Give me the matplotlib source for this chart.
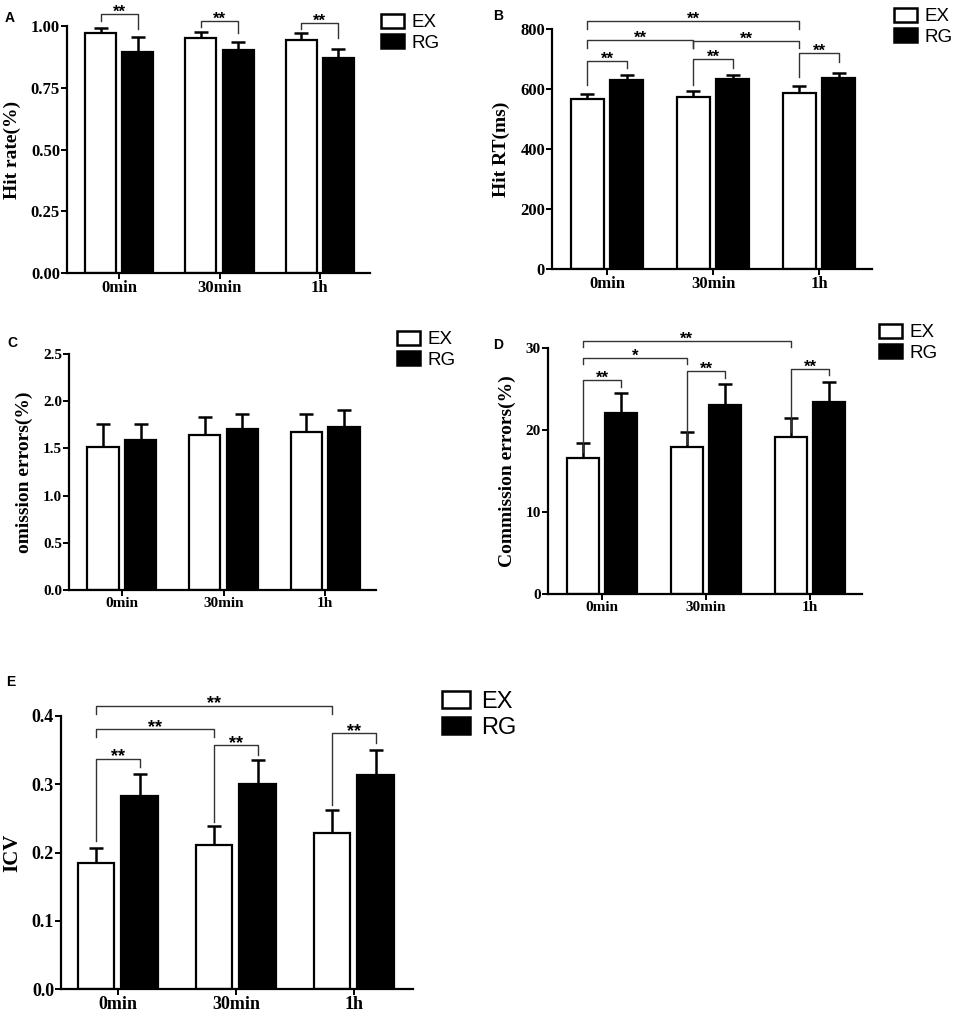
import matplotlib
matplotlib.use("Agg")
import matplotlib.pyplot as plt
from matplotlib.patches import Patch

W, H = 957, 1023

# categories / series
groups = ['0min', '30min', '1h']
series = ['EX', 'RG']

# A - hit rate
hit_rate_ex = [0.970, 0.950, 0.943]
hit_rate_ex_err = [0.023, 0.027, 0.027]
hit_rate_rg = [0.896, 0.903, 0.872]
hit_rate_rg_err = [0.059, 0.031, 0.036]

# B - hit RT
hit_rt_ex = [567, 575, 587]
hit_rt_ex_err = [17, 18, 22]
hit_rt_rg = [630, 632, 638]
hit_rt_rg_err = [18, 16, 15]

# C - omission errors
omission_ex = [1.52, 1.64, 1.67]
omission_ex_err = [0.24, 0.19, 0.19]
omission_rg = [1.59, 1.71, 1.73]
omission_rg_err = [0.17, 0.15, 0.18]

# D - commission errors
commission_ex = [16.6, 17.9, 19.1]
commission_ex_err = [1.8, 1.9, 2.4]
commission_rg = [22.1, 23.1, 23.4]
commission_rg_err = [2.4, 2.5, 2.4]

# E - ICV
icv_ex = [0.184, 0.211, 0.229]
icv_ex_err = [0.023, 0.028, 0.034]
icv_rg = [0.283, 0.301, 0.3135]
icv_rg_err = [0.032, 0.034, 0.037]

# significance brackets: (group1, series1, group2, series2, y, y_left_end, y_right_end, label)
brackets_a = [(0, 0, 0, 1, 1.049, 1.022, 0.988, '**'),
              (1, 0, 1, 1, 1.022, 0.995, 0.970, '**'),
              (2, 0, 2, 1, 1.014, 0.986, 0.950, '**')]
brackets_b = [(0, 0, 2, 0, 826, 801, 801, '**'),
              (0, 0, 1, 0, 762, 737, 737, '**'),
              (1, 0, 2, 0, 759, 737, 737, '**'),
              (0, 0, 0, 1, 694, 614, 670, '**'),
              (1, 0, 1, 1, 701, 614, 670, '**'),
              (2, 0, 2, 1, 720, 640, 690, '**')]
brackets_d = [(0, 0, 2, 0, 30.8, 30.1, 30.1, '**'),
              (0, 0, 1, 0, 28.8, 28.1, 28.1, '*'),
              (0, 0, 0, 1, 26.05, 17.3, 25.3, '**'),
              (1, 0, 1, 1, 27.15, 18.3, 26.4, '**'),
              (2, 0, 2, 1, 27.5, 19.7, 26.7, '**')]
brackets_e = [(0, 0, 2, 0, 0.415, 0.403, 0.403, '**'),
              (0, 0, 1, 0, 0.381, 0.369, 0.369, '**'),
              (0, 0, 0, 1, 0.3375, 0.217, 0.325, '**'),
              (1, 0, 1, 1, 0.357, 0.245, 0.343, '**'),
              (2, 0, 2, 1, 0.3746, 0.270, 0.360, '**')]

SERIF = 'Liberation Serif'
SANS = 'Liberation Sans'
OFF = [-0.185, 0.185]
BW = 0.31

fig = plt.figure(figsize=(W / 100, H / 100), dpi=100)


def px_axes(l, r, t, b):
    return fig.add_axes([l / W, 1 - b / H, (r - l) / W, (b - t) / H])


def panel(ax, ex, ex_err, rg, rg_err, ylim, yticks, fmt, ylabel, brackets,
          tick_fs=12, lab_fs=14, star_fs=12, leg_pos=(0, 0), leg_fs=13.5, letter='',
          letter_pos=(0, 0), xlim=(-0.52, 2.5)):
    x = range(len(groups))
    xe = [i + OFF[0] for i in x]
    xr = [i + OFF[1] for i in x]
    ax.bar(xe, ex, BW, color='white', edgecolor='black', linewidth=1.6, zorder=2)
    ax.bar(xr, rg, BW, color='black', edgecolor='black', linewidth=1.6, zorder=2)
    ax.errorbar(xe, ex, yerr=[[0] * len(ex), ex_err], fmt='none', ecolor='black',
                elinewidth=1.8, capsize=5, capthick=1.8, zorder=1)
    ax.errorbar(xr, rg, yerr=[[0] * len(rg), rg_err], fmt='none', ecolor='black',
                elinewidth=1.8, capsize=5, capthick=1.8, zorder=1)

    ax.set_xlim(*xlim)
    ax.set_ylim(*ylim)
    ax.set_yticks(yticks)
    ax.set_yticklabels([fmt.format(v) for v in yticks])
    ax.set_xticks(list(x))
    ax.set_xticklabels(groups)
    for s in ['top', 'right']:
        ax.spines[s].set_visible(False)
    for s in ['left', 'bottom']:
        ax.spines[s].set_linewidth(1.6)
    ax.tick_params(direction='out', length=4, width=1.4, pad=1)
    for lab in ax.get_xticklabels() + ax.get_yticklabels():
        lab.set_fontfamily(SERIF)
        lab.set_fontweight('bold')
        lab.set_fontsize(tick_fs)
    ax.set_ylabel(ylabel, fontfamily=SERIF, fontweight='bold', fontsize=lab_fs, labelpad=7)

    for g1, s1, g2, s2, y, yl, yr, txt in brackets:
        x1 = g1 + OFF[s1]
        x2 = g2 + OFF[s2]
        ax.plot([x1, x1, x2, x2], [yl, y, y, yr], color='#333333', lw=1.0,
                clip_on=False, zorder=3)
        ax.annotate(txt, ((x1 + x2) / 2, y), xytext=(0, -2), textcoords='offset points',
                    ha='center', va='baseline', fontfamily=SANS, fontsize=star_fs,
                    fontweight='bold', annotation_clip=False)

    handles = [Patch(facecolor='white', edgecolor='black', linewidth=1.8),
               Patch(facecolor='black', edgecolor='black', linewidth=1.8)]
    ax.legend(handles, series, loc='upper left',
              bbox_to_anchor=(leg_pos[0] / W, 1 - leg_pos[1] / H),
              bbox_transform=fig.transFigure, frameon=False, borderpad=0,
              borderaxespad=0, handlelength=1.2, handleheight=0.75,
              handletextpad=0.45, labelspacing=0.15,
              prop={'family': SANS, 'size': leg_fs})
    fig.text(letter_pos[0] / W, 1 - letter_pos[1] / H, letter, fontfamily=SANS,
             fontweight='bold', fontsize=10, ha='left', va='top')


ax_a = px_axes(67, 370, 26, 273)
panel(ax_a, hit_rate_ex, hit_rate_ex_err, hit_rate_rg, hit_rate_rg_err,
      (0, 1.0), [0, 0.25, 0.5, 0.75, 1.0], '{:.2f}', 'Hit rate(%)', brackets_a,
      leg_pos=(381, 14), letter='A', letter_pos=(5, 11))

ax_b = px_axes(552, 872, 29, 269)
panel(ax_b, hit_rt_ex, hit_rt_ex_err, hit_rt_rg, hit_rt_rg_err,
      (0, 800), [0, 200, 400, 600, 800], '{:.0f}', 'Hit RT(ms)', brackets_b,
      leg_pos=(894, 8), letter='B', letter_pos=(493, 9))

ax_c = px_axes(69, 376, 354, 590)
panel(ax_c, omission_ex, omission_ex_err, omission_rg, omission_rg_err,
      (0, 2.5), [0, 0.5, 1.0, 1.5, 2.0, 2.5], '{:.1f}', 'omission errors(%)', [],
      tick_fs=11, lab_fs=14, leg_pos=(397, 331), leg_fs=13.5, letter='C', letter_pos=(7, 336))

ax_d = px_axes(548, 862, 348, 594)
panel(ax_d, commission_ex, commission_ex_err, commission_rg, commission_rg_err,
      (0, 30), [0, 10, 20, 30], '{:.0f}', 'Commission errors(%)', brackets_d,
      tick_fs=11, lab_fs=14, leg_pos=(879, 324), leg_fs=13.5, letter='D', letter_pos=(493, 338))

ax_e = px_axes(61, 413, 716, 989)
panel(ax_e, icv_ex, icv_ex_err, icv_rg, icv_rg_err,
      (0, 0.4), [0, 0.1, 0.2, 0.3, 0.4], '{:.1f}', 'ICV', brackets_e,
      tick_fs=13, lab_fs=15, star_fs=13, leg_pos=(442, 691), leg_fs=17,
      letter='E', letter_pos=(6, 675), xlim=(-0.48, 2.5))

fig.savefig('out.png', dpi=100)
